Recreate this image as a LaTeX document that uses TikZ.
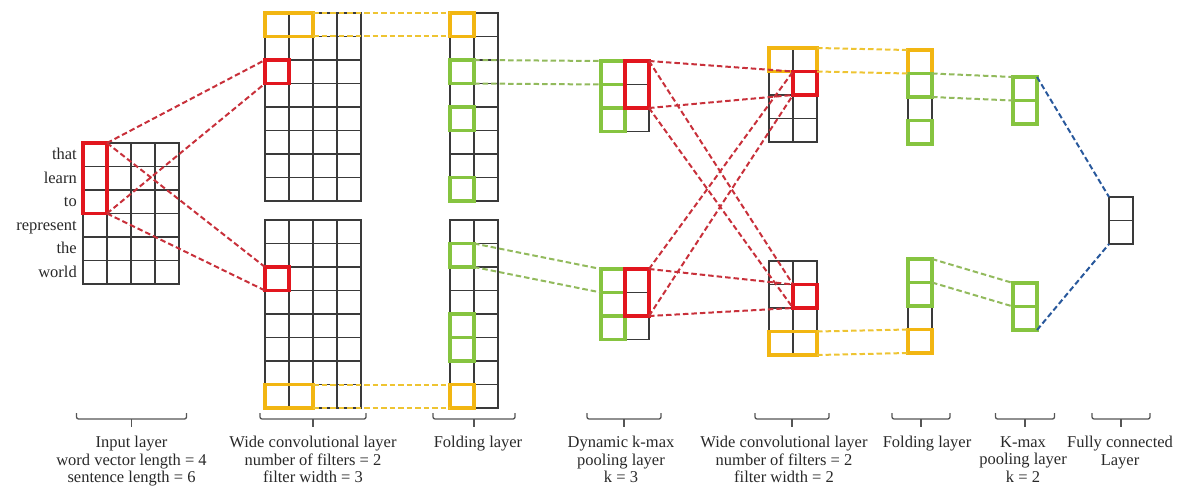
\documentclass[tikz,border=0pt]{standalone}
\usepackage{fontspec}
\setmainfont{Liberation Serif}
\usetikzlibrary{calc}

\definecolor{gridgray}{RGB}{58,58,58}
\definecolor{hlred}{RGB}{226,22,30}
\definecolor{lnred}{RGB}{200,48,58}
\definecolor{hlyellow}{RGB}{242,182,18}
\definecolor{lnyellow}{RGB}{238,196,50}
\definecolor{hlgreen}{RGB}{134,196,64}
\definecolor{lngreen}{RGB}{146,186,92}
\definecolor{lnblue}{RGB}{40,88,156}
\definecolor{labelgray}{RGB}{40,40,40}
\definecolor{bracegray}{RGB}{85,85,85}

% a block of cols x rows cells, top-left corner at (x,y)
\newcommand\cellgrid[5]{%
  \node[gridbox, minimum width={#4*24pt}, minimum height={#5*23.5pt}] (#1) at (#2,#3) {};
  \ifnum#4>1
    \foreach \i in {2,...,#4} \draw[gridline] ({#2+(\i-1)*24},#3) -- ++(0,{#5*23.5});
  \fi
  \ifnum#5>1
    \foreach \j in {2,...,#5} \draw[gridline] (#2,{#3+(\j-1)*23.5}) -- ++({#4*24},0);
  \fi}

% brace-like bracket under a layer: centre x, half width
\newcommand\layerbrace[2]{%
  \draw[brace] ({#1-#2},413) -- ({#1-#2},419) -- ({#1+#2},419) -- ({#1+#2},413);
  \draw[brace] (#1,419) -- (#1,427);}

\begin{document}
\begin{tikzpicture}[x=1pt,y=-1pt,
  gridbox/.style={draw=gridgray, line width=1.2pt, inner sep=0pt, outer sep=0pt, anchor=north west},
  gridline/.style={draw=gridgray, line width=1.2pt},
  hl/.style={draw=#1, line width=3.4pt, inner sep=0pt, outer sep=0pt, anchor=north west,
             minimum width=24pt, minimum height=23.5pt},
  link/.style={draw=#1, line width=2pt, dash pattern=on 5.5pt off 3pt},
  word/.style={font=\fontsize{16.5}{17.5}\selectfont, text=labelgray, inner sep=0pt, anchor=base east},
  lbl/.style={font=\fontsize{16.5}{17.5}\selectfont, text=labelgray, inner sep=0pt, align=center, anchor=north},
  brace/.style={draw=bracegray, line width=1.3pt, rounded corners=2pt}]

\useasboundingbox (0,0) rectangle (1182,489);

% ---------------- grids ----------------
\cellgrid{inp}{83}{143}{4}{6}
\cellgrid{c1t}{265}{13}{4}{8}
\cellgrid{c1b}{265}{220}{4}{8}
\cellgrid{f1t}{450}{13}{2}{8}
\cellgrid{f1b}{450}{220}{2}{8}
\cellgrid{k1t}{601}{61}{2}{3}
\cellgrid{k1b}{601}{269}{2}{3}
\cellgrid{c2t}{769}{48}{2}{4}
\cellgrid{c2b}{769}{261}{2}{4}
\cellgrid{f2t}{908}{50}{1}{4}
\cellgrid{f2b}{908}{259}{1}{4}
\cellgrid{k2t}{1013}{77}{1}{2}
\cellgrid{k2b}{1013}{283}{1}{2}
\cellgrid{fc}{1109}{197}{1}{2}

% ---------------- input words ----------------
\node[word] (w1) at (77,159.8) {that};
\node[word] (w2) at (77,183.3) {learn};
\node[word] (w3) at (77,206.8) {to};
\node[word] (w4) at (77,230.3) {represent};
\node[word] (w5) at (77,253.8) {the};
\node[word] (w6) at (77,277.3) {world};

% ---------------- highlighted cells ----------------
\node[hl=hlred, minimum height=70.5pt] (in-red) at (83,143) {};
\node[hl=hlred] (c1t-red) at (265,60) {};
\node[hl=hlred] (c1b-red) at (265,267) {};
\node[hl=hlyellow, minimum width=48pt] (c1t-yel) at (265,13) {};
\node[hl=hlyellow, minimum width=48pt] (c1b-yel) at (265,384.5) {};

\node[hl=hlyellow] (f1t-yel) at (450,13) {};
\node[hl=hlgreen] (f1t-g3) at (450,60) {};
\node[hl=hlgreen] (f1t-g5) at (450,107) {};
\node[hl=hlgreen] (f1t-g8) at (450,177.5) {};
\node[hl=hlgreen] (f1b-g2) at (450,243.5) {};
\node[hl=hlgreen] (f1b-g5) at (450,314) {};
\node[hl=hlgreen] (f1b-g6) at (450,337.5) {};
\node[hl=hlyellow] (f1b-yel) at (450,384.5) {};

\node[hl=hlgreen] (k1t-g1) at (601,61) {};
\node[hl=hlgreen] (k1t-g2) at (601,84.5) {};
\node[hl=hlgreen] (k1t-g3) at (601,108) {};
\node[hl=hlgreen] (k1b-g1) at (601,269) {};
\node[hl=hlgreen] (k1b-g2) at (601,292.5) {};
\node[hl=hlgreen] (k1b-g3) at (601,316) {};

\node[hl=hlyellow, minimum width=48pt] (c2t-yel) at (769,48) {};
\node[hl=hlyellow, minimum width=48pt] (c2b-yel) at (769,331.5) {};

\node[hl=hlyellow] (f2t-yel) at (908,50) {};
\node[hl=hlgreen] (f2t-g2) at (908,73.5) {};
\node[hl=hlgreen] (f2t-g4) at (908,120.5) {};
\node[hl=hlgreen] (f2b-g1) at (908,259) {};
\node[hl=hlgreen] (f2b-g2) at (908,282.5) {};
\node[hl=hlyellow] (f2b-yel) at (908,329.5) {};

\node[hl=hlgreen] (k2t-g1) at (1013,77) {};
\node[hl=hlgreen] (k2t-g2) at (1013,100.5) {};
\node[hl=hlgreen] (k2b-g1) at (1013,283) {};
\node[hl=hlgreen] (k2b-g2) at (1013,306.5) {};

% ---------------- dashed connections ----------------
% input -> first convolution
\draw[link=lnred] (in-red.north east) -- (c1t-red.north west);
\draw[link=lnred] (in-red.south east) -- (c1t-red.south west);
\draw[link=lnred] (in-red.north east) -- (c1b-red.north west);
\draw[link=lnred] (in-red.south east) -- (c1b-red.south west);
% first convolution -> folding
\draw[link=lnyellow] (c1t-yel.north east) -- (f1t-yel.north west);
\draw[link=lnyellow] (c1t-yel.south east) -- (f1t-yel.south west);
\draw[link=lnyellow] (c1b-yel.north east) -- (f1b-yel.north west);
\draw[link=lnyellow] (c1b-yel.south east) -- (f1b-yel.south west);
% folding -> dynamic k-max pooling
\draw[link=lngreen] (f1t-g3.north east) -- (k1t-g1.north west);
\draw[link=lngreen] (f1t-g3.south east) -- (k1t-g1.south west);
\draw[link=lngreen] (f1b-g2.north east) -- (k1b-g1.north west);
\draw[link=lngreen] (f1b-g2.south east) -- (k1b-g1.south west);

% the red windows of the pooled maps (drawn here so the links sit beneath)
\node[hl=hlred, minimum height=47pt] (k1t-red) at (625,61) {};
\node[hl=hlred, minimum height=47pt] (k1b-red) at (625,269) {};
\node[hl=hlred] (c2t-red) at (793,71.5) {};
\node[hl=hlred] (c2b-red) at (793,284.5) {};

% dynamic k-max pooling -> second convolution
\draw[link=lnred] (k1t-red.north east) -- (c2t-red.north west);
\draw[link=lnred] (k1t-red.south east) -- (c2t-red.south west);
\draw[link=lnred] (k1t-red.north east) -- (c2b-red.north west);
\draw[link=lnred] (k1t-red.south east) -- (c2b-red.south west);
\draw[link=lnred] (k1b-red.north east) -- (c2b-red.north west);
\draw[link=lnred] (k1b-red.south east) -- (c2b-red.south west);
\draw[link=lnred] (k1b-red.north east) -- (c2t-red.north west);
\draw[link=lnred] (k1b-red.south east) -- (c2t-red.south west);
% second convolution -> folding
\draw[link=lnyellow] (c2t-yel.north east) -- (f2t-yel.north west);
\draw[link=lnyellow] (c2t-yel.south east) -- (f2t-yel.south west);
\draw[link=lnyellow] (c2b-yel.north east) -- (f2b-yel.north west);
\draw[link=lnyellow] (c2b-yel.south east) -- (f2b-yel.south west);
% folding -> k-max pooling
\draw[link=lngreen] (f2t-g2.north east) -- (k2t-g1.north west);
\draw[link=lngreen] (f2t-g2.south east) -- (k2t-g1.south west);
\draw[link=lngreen] (f2b-g1.north east) -- (k2b-g1.north west);
\draw[link=lngreen] (f2b-g1.south east) -- (k2b-g1.south west);
% k-max pooling -> fully connected
\draw[link=lnblue] (k2t-g1.north east) -- (fc.north west);
\draw[link=lnblue] (k2b-g2.south east) -- (fc.south west);

% ---------------- brackets and captions ----------------
\layerbrace{131.5}{55}
\layerbrace{313}{53}
\layerbrace{474}{41}
\layerbrace{624}{37}
\layerbrace{792}{37}
\layerbrace{921}{29}
\layerbrace{1025}{29.5}
\layerbrace{1121}{29}

\node[lbl] (t-in) at (131.5,436) {Input layer\\word vector length = 4\\sentence length = 6};
\node[lbl] (t-c1) at (313,436) {Wide convolutional layer\\number of filters = 2\\filter width = 3};
\node[lbl] (t-f1) at (478,436) {Folding layer};
\node[lbl] (t-k1) at (621,436) {Dynamic k-max\\pooling layer\\k = 3};
\node[lbl] (t-c2) at (784,436) {Wide convolutional layer\\number of filters = 2\\filter width = 2};
\node[lbl] (t-f2) at (927,436) {Folding layer};
\node[lbl] (t-k2) at (1023,436) {K-max\\pooling layer\\k = 2};
\node[lbl] (t-fc) at (1120,436) {Fully connected\\Layer};
\end{tikzpicture}
\end{document}
